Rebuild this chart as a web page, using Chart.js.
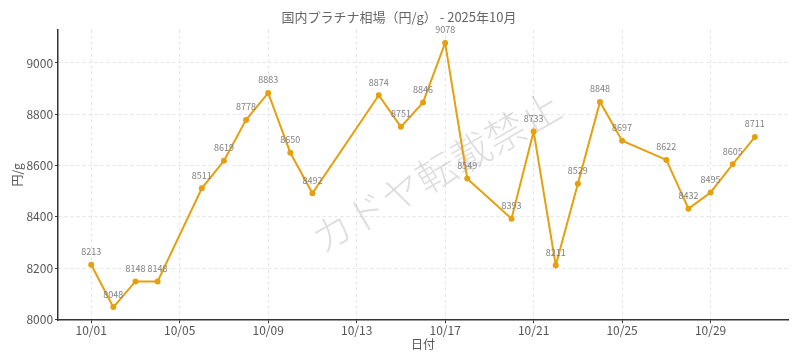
<!DOCTYPE html>
<html>
<head>
<meta charset="utf-8">
<script src="https://cdn.jsdelivr.net/npm/chart.js@4.4.1/dist/chart.umd.min.js"></script>
<style>
  html,body{margin:0;padding:0;background:#fff;}
  #wrap{position:relative;width:800px;height:364px;}
</style>
</head>
<body>
<div id="wrap"><canvas id="c" width="800" height="364"></canvas></div>
<script>
// 日付（10月の日）と価格
const days   = [1,2,3,4,6,7,8,9,10,11,14,15,16,17,18,20,21,22,23,24,25,27,28,29,30,31];
const prices = [8213,8048,8148,8148,8511,8619,8778,8883,8650,8492,8874,8751,8846,9078,8549,8393,8733,8211,8529,8848,8697,8622,8432,8495,8605,8711];
const xTicks = [1,5,9,13,17,21,25,29];
const yTicks = [8000,8200,8400,8600,8800,9000];

const FONT = '"Noto Sans CJK JP","Noto Sans",sans-serif';
const LINE = '#E6A00E';

const pad2 = n => String(n).padStart(2,'0');

// 値ラベル
const valueLabels = {
  id:'valueLabels',
  afterDatasetsDraw(chart){
    const {ctx} = chart;
    const meta = chart.getDatasetMeta(0);
    ctx.save();
    ctx.font = '9px '+FONT;
    ctx.fillStyle = '#808080';
    ctx.textAlign = 'center';
    ctx.textBaseline = 'middle';
    meta.data.forEach((pt,i)=>{
      ctx.fillText(String(prices[i]), pt.x, pt.y-13);
    });
    ctx.restore();
  }
};

// 透かし
const watermark = {
  id:'watermark',
  beforeDatasetsDraw(chart){
    const {ctx} = chart;
    ctx.save();
    ctx.translate(436,172);
    ctx.rotate(-30*Math.PI/180);
    ctx.font = '300 40px '+FONT;
    ctx.fillStyle = 'rgba(0,0,0,0.13)';
    ctx.textAlign = 'center';
    ctx.textBaseline = 'middle';
    ctx.fillText('カドヤ転載禁止',0,0);
    ctx.restore();
  }
};

const gridOpts = {color:'#e4e4e4',tickColor:'#333',tickLength:3,tickBorderDash:[]};

new Chart(document.getElementById('c'),{
  type:'line',
  data:{
    datasets:[{
      data:days.map((d,i)=>({x:d,y:prices[i]})),
      borderColor:LINE,
      backgroundColor:LINE,
      borderWidth:2,
      pointRadius:2,
      pointHoverRadius:2,
      tension:0
    }]
  },
  options:{
    responsive:false,
    animation:false,
    layout:{padding:{left:10,right:12,top:0,bottom:12}},
    plugins:{
      legend:{display:false},
      tooltip:{enabled:false},
      title:{
        display:true,
        text:'国内プラチナ相場（円/g） - 2025年10月',
        color:'#666',
        font:{family:FONT,size:13,weight:'normal'},
        padding:{top:9,bottom:5}
      }
    },
    scales:{
      x:{
        type:'linear',
        min:-0.5,max:32.5,
        afterBuildTicks:s=>{ s.ticks = xTicks.map(v=>({value:v})); },
        ticks:{
          color:'#555',
          font:{family:FONT,size:12},
          padding:0,
          maxRotation:0,
          callback:v=>'10/'+pad2(v)
        },
        grid:gridOpts,
        border:{display:true,color:'#333',width:1.5,dash:[3,3]},
        title:{display:true,text:'日付',color:'#555',font:{family:FONT,size:12},padding:{top:0,bottom:0}}
      },
      y:{
        min:7997,max:9130,
        afterBuildTicks:s=>{ s.ticks = yTicks.map(v=>({value:v})); },
        ticks:{
          color:'#555',
          font:{family:FONT,size:12},
          padding:2,
          callback:v=>String(v)
        },
        grid:gridOpts,
        border:{display:true,color:'#333',width:1.5,dash:[3,3]},
        title:{display:true,text:'円/g',color:'#555',font:{family:FONT,size:12},padding:{top:0,bottom:0}}
      }
    }
  },
  plugins:[watermark,valueLabels]
});
</script>
</body>
</html>
